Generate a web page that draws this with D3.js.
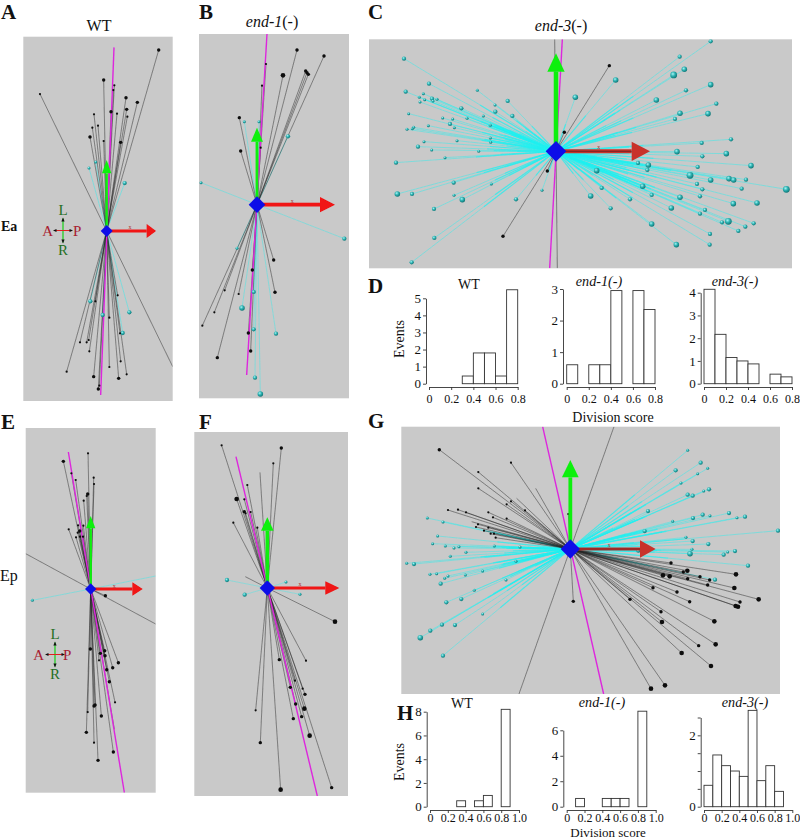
<!DOCTYPE html>
<html><head><meta charset="utf-8">
<script src="https://cdn.jsdelivr.net/npm/d3@7"></script>
<style>html,body{margin:0;padding:0;background:#fff}svg{display:block}text{font-family:"Liberation Serif",serif}</style>
</head><body><div id="c"></div>
<script>
// ---- values: [horizontal reading, vertical reading, depth class]
const blackA=[[476,150,2],[120,282,1],[311,240,2],[343,256,1],[340,270,1],[378,293,2],[412,307,2],[380,328,2],[333,335,2],[351,341,1],[282,343,1],[382,350,1],[294,377,1],[277,383,1],[270,411,2],[311,423,1],[362,427,2],[200,1115,1],[240,1027,1],[260,1027,1],[266,1020,1],[268,1054,1],[286,904,1],[328,953,1],[353,886,1],[362,1084,1],[328,1101,1],[380,1123,1],[356,1135,2],[281,1130,2],[295,1167,2],[298,1157,1],[360,1000,1]];
const cyanA=[[287,486,1],[267,504,1],[374,549,2],[271,904,2],[388,937,2],[368,999,2],[308,945,2]];
const blackAOpen=[[518,1100]];
const blackB=[[891,150,2],[972,168,2],[849,226,3],[917,213,2],[925,223,2],[921,218,2],[798,192,1],[786,257,1],[718,353,2],[722,453,2],[782,443,1],[821,780,2],[825,877,2],[757,810,2],[716,882,1],[674,871,1],[643,937,1],[607,977,1],[652,1073,2],[745,999,2],[752,1053,2]];
const cyanB=[[733,365,1],[777,365,1],[864,409,2],[603,548,1],[1033,716,2],[711,745,1],[761,876,2],[726,924,3],[761,988,2],[828,1001,2],[765,1133,2],[781,1182,3]];
const blackC=[[748,197,2],[613,397,2],[562,513,2],[429,709,2]];
const blackCOpen=[[584,118],[592,805]];
const cyanC=[[132,176,2],[207,251,2],[137,275,2],[352,271,1],[178,292,1],[190,281,1],[180,306,1],[194,299,1],[216,296,2],[219,303,1],[231,298,1],[304,325,2],[405,315,1],[443,303,2],[406,335,2],[146,341,1],[248,354,1],[278,357,1],[321,355,1],[370,348,1],[457,348,2],[141,388,1],[157,386,1],[161,382,1],[205,377,1],[270,372,2],[283,383,1],[391,376,1],[192,425,1],[291,422,1],[391,414,1],[392,427,1],[174,440,2],[215,450,1],[356,454,1],[255,473,1],[108,488,2],[112,582,3],[156,582,2],[281,548,2],[394,552,1],[282,586,1],[307,599,3],[222,627,2],[468,598,2],[546,571,1],[223,714,2],[155,787,2],[646,292,3],[767,240,3],[1052,124,2],[959,170,2],[941,225,4],[973,208,3],[1052,254,3],[978,271,2],[889,300,3],[1069,311,2],[960,340,3],[1044,341,3],[945,357,2],[1113,418,2],[1025,429,2],[951,455,3],[1099,461,3],[1027,469,2],[1173,497,3],[1013,501,2],[834,489,2],[865,495,3],[862,510,2],[710,512,3],[990,526,4],[1052,540,3],[1107,536,3],[1121,540,3],[1158,539,2],[1011,552,2],[1027,568,2],[1145,566,2],[1279,568,4],[848,559,3],[725,564,2],[875,585,2],[692,588,3],[810,598,2],[960,592,3],[1020,589,2],[1120,611,3],[1191,609,3],[752,625,2],[934,624,3],[1035,630,2],[1020,641,2],[1086,667,2],[1105,664,4],[1181,670,2],[1156,680,2],[1135,693,2],[875,672,3],[1050,702,2],[1049,734,2],[949,734,3]];
const blackE=[[264,130,1],[190,154,2],[214,190,1],[227,210,1],[281,203,1],[282,222,1],[263,252,2],[260,258,1],[251,272,1],[206,358,1],[234,346,1],[250,347,1],[239,363,2],[233,368,1],[228,382,1],[240,380,1],[249,380,1],[316,557,2],[271,717,2],[314,722,2],[301,730,2],[315,737,2],[297,751,1],[355,758,2],[338,773,2],[320,779,2],[328,815,2],[345,877,1],[285,885,2],[282,888,2],[263,906,1],[304,918,2],[259,967,2],[282,998,1],[340,1026,2],[294,1051,2]];
const blackEOpen=[[77,431],[467,642],[343,958]];
const cyanE=[[97,571,1]];
const cyanEOpen=[[467,498]];
const blackF=[[665,106,1],[844,114,2],[820,160,1],[742,225,1],[710,267,3],[733,268,1],[733,305,2],[737,310,1],[752,306,1],[700,338,1],[772,353,1],[918,752,1],[838,749,2],[885,812,1],[871,832,2],[908,836,1],[915,853,2],[887,882,2],[913,896,3],[905,920,2],[880,926,2],[767,901,1],[929,977,3],[781,998,2],[995,1133,2],[842,1139,3],[1005,635,3]];
const blackFOpen=[[780,187],[736,500]];
const cyanF=[[681,510,2],[858,516,1],[734,554,2],[900,553,1]];
const blackG=[[148,89,2],[265,156,1],[363,128,1],[265,205,1],[363,244,1],[350,253,1],[405,271,1],[174,270,1],[204,269,1],[228,277,1],[295,277,1],[309,292,1],[350,296,1],[264,313,1],[258,321,1],[295,323,1],[282,332,1],[302,341,1],[312,341,1],[317,353,1],[535,282,1],[843,429,2],[1038,463,3],[892,452,3],[880,456,2],[819,466,3],[839,469,3],[893,476,2],[930,470,2],[959,480,2],[953,495,2],[1033,504,3],[789,503,2],[861,516,2],[1106,538,3],[1050,546,2],[1037,558,3],[1044,560,3],[899,545,2],[720,538,2],[813,575,2],[816,606,3],[973,604,3],[977,673,3],[926,677,2],[875,699,3],[963,738,3],[825,796,3],[783,806,3],[550,544,2]];
const blackGOpen=[[672,20],[387,822],[437,205],[380,235],[245,305]];
const cyanG=[[893,91,1],[932,128,2],[953,145,1],[857,151,2],[923,161,1],[873,189,1],[893,224,2],[908,227,2],[941,213,1],[957,208,2],[774,273,2],[909,294,2],[938,284,2],[960,287,1],[1017,279,2],[1041,293,1],[1065,290,2],[848,304,1],[764,333,2],[1164,332,2],[888,352,1],[908,363,2],[955,372,2],[906,388,1],[900,401,3],[1001,404,2],[1013,396,1],[1035,393,2],[745,392,2],[1074,437,2],[975,479,2],[112,294,1],[159,306,1],[143,348,1],[128,371,1],[166,378,1],[192,384,1],[207,380,1],[313,378,1],[390,381,1],[228,397,1],[181,409,1],[50,430,1],[72,432,2],[378,424,1],[278,453,1],[120,463,1],[140,461,1],[174,468,1],[164,475,1],[226,465,1],[152,491,2],[348,480,1],[253,511,1],[214,537,2],[169,547,2],[278,582,1],[156,614,2],[195,615,2],[121,632,2],[91,653,3],[159,707,2]];

// histogram bin heights, bins of 0.1 from 0
const histDWT=[0,0,0,0.45,1.8,1.8,0.45,5.5];
const histDEnd1=[0.6,0,0.6,0.6,2.95,0,2.95,2.35];
const histDEnd3=[4.15,2.17,1.15,1,0.87,0,0.42,0.3];
const histHWT=[0,0,0,0.5,0,0.5,0.95,0,8.2];
const histHEnd1=[0,0.65,0,0,0.65,0.65,0.65,0,7.5];
const histHEnd3=[0.6,1.45,1.15,1,0.85,2.7,0.73,1.15,0.43];
const ticksD=[0,0.2,0.4,0.6,0.8];
const ticksH=[0,0.2,0.4,0.6,0.8,1.0];

// ---- layout
const svg=d3.select("#c").append("svg").attr("width",800).attr("height",840);
const defs=svg.append("defs");
const ball=defs.append("radialGradient").attr("id","ball").attr("cx","38%").attr("cy","35%").attr("r","70%");
[[0,"#a8f4f4"],[0.45,"#2fb3b3"],[1,"#0c6f6f"]].forEach(s=>ball.append("stop").attr("offset",s[0]).attr("stop-color",s[1]));
defs.append("filter").attr("id","soft").attr("x","-5%").attr("y","-5%").attr("width","110%").attr("height","110%").append("feGaussianBlur").attr("stdDeviation",0.4);
const rCyan=d3.scaleLinear().domain([1,4]).range([1.5,3.4]);
const rBlack=d3.scaleLinear().domain([1,4]).range([1.1,2.9]);

function sphere(o){
  const outer=svg.append("g");
  const clip="clip"+o.id;
  defs.append("clipPath").attr("id",clip).append("rect").attr("x",o.box[0]).attr("y",o.box[1]).attr("width",o.box[2]-o.box[0]).attr("height",o.box[3]-o.box[1]);
  outer.append("rect").attr("x",o.box[0]).attr("y",o.box[1]).attr("width",o.box[2]-o.box[0]).attr("height",o.box[3]-o.box[1]).attr("fill","#c9c9c9");
  const g=outer.append("g").attr("clip-path",`url(#${clip})`);
  const x=d3.scaleLinear().domain(o.dx).range([o.box[0],o.box[2]]);
  const y=d3.scaleLinear().domain(o.dy).range([o.box[1],o.box[3]]);
  const [cx,cy]=o.center;
  const p=g.append("g").attr("filter","url(#soft)");
  const lines=(data,color,w,op,part=1)=>p.append("g").selectAll("line").data(data).join("line")
    .attr("x1",x(cx)).attr("y1",y(cy)).attr("x2",d=>x(cx+(d[0]-cx)*part)).attr("y2",d=>y(cy+(d[1]-cy)*part))
    .attr("stroke",color).attr("stroke-width",w).attr("stroke-opacity",op);
  const cy2=(o.cyan||[]).concat(o.cyanOpen||[]);
  lines(cy2,"#1ff0f0",0.85,o.cop||0.6);
  if(o.taper)lines(cy2,"#1ff0f0",1.3,0.55,o.taper);
  lines((o.black||[]).concat(o.blackOpen||[]),"#222",0.75,0.62);
  p.append("line").attr("x1",x(o.mag[0])).attr("y1",y(o.mag[1])).attr("x2",x(o.mag[2])).attr("y2",y(o.mag[3])).attr("stroke","#dd28dd").attr("stroke-width",1.4);
  p.append("g").selectAll("circle").data(o.cyan||[]).join("circle").attr("cx",d=>x(d[0])).attr("cy",d=>y(d[1])).attr("r",d=>rCyan(d[2])).attr("fill","url(#ball)");
  p.append("g").selectAll("circle").data(o.black||[]).join("circle").attr("cx",d=>x(d[0])).attr("cy",d=>y(d[1])).attr("r",d=>rBlack(d[2])).attr("fill","#0c0c0c");
  // arrows
  const [gTip,gBase,gHalf,gW]=o.green, [rTip,rBase,rHalf,rW,rCol]=o.red;
  p.append("line").attr("x1",x(cx)).attr("x2",x(cx)).attr("y1",y(cy)).attr("y2",y(gBase)).attr("stroke","#10f010").attr("stroke-width",gW);
  p.append("polygon").attr("points",[[x(cx),y(gTip)],[x(cx-gHalf),y(gBase)],[x(cx+gHalf),y(gBase)]].join(" ")).attr("fill","#10f010");
  p.append("line").attr("x1",x(cx)).attr("x2",x(rBase)).attr("y1",y(cy)).attr("y2",y(cy)).attr("stroke",rCol).attr("stroke-width",rW);
  p.append("polygon").attr("points",[[x(rTip),y(cy)],[x(rBase),y(cy-rHalf)],[x(rBase),y(cy+rHalf)]].join(" ")).attr("fill",rCol);
  if(o.stripe){
    p.append("line").attr("x1",x(cx)).attr("x2",x(rBase)).attr("y1",y(cy)).attr("y2",y(cy)).attr("stroke","#552222").attr("stroke-width",0.7);
  }
  const dr=o.dia;
  p.append("polygon").attr("points",[[x(cx),y(cy-dr)],[x(cx+dr),y(cy)],[x(cx),y(cy+dr)],[x(cx-dr),y(cy)]].join(" ")).attr("fill","#0a10e8");
  g.append("text").attr("x",x(o.ax[0])).attr("y",y(o.ax[1])).attr("font-size",6).attr("text-anchor","middle").attr("fill","#b03030").text("x");
}
sphere({id:"A",box:[23.3,36.7,172.7,401],dx:[70,518],dy:[110,1203],center:[320,693],black:blackA,cyan:cyanA,blackOpen:blackAOpen,mag:[342,142,302,1185],green:[480,520,14,2.4],red:[468,440,21,2.8,"#f01212"],dia:18,cop:0.5,ax:[390,688]});
sphere({id:"B",box:[199,34,349,398.3],dx:[597,1047],dy:[102,1195],center:[771,614],black:blackB,cyan:cyanB,mag:[801,102,740,1125],green:[383,425,18,2.8],red:[1005,960,23,3.6,"#f01212"],dia:25,cop:0.45,ax:[877,610]});
sphere({id:"C",box:[369,39.3,792,268.3],dx:[27,1296],dy:[118,805],center:[588,454],black:blackC,blackOpen:blackCOpen,cyan:cyanC,mag:[607,118,569,805],green:[160,215,26,4.5],red:[870,815,29,4,"#c8302a"],stripe:true,dia:31,cop:0.5,taper:0.5,ax:[716,447]});
sphere({id:"E",box:[25.7,428,155.7,792.7],dx:[77,467],dy:[54,1148],center:[272,537],black:blackE,blackOpen:blackEOpen,cyan:cyanE,cyanOpen:cyanEOpen,mag:[205,126,373,1148],green:[318,355,14,2.4],red:[428,397,20,2.8,"#f01212"],dia:17,cop:0.45,ax:[343,533]});
sphere({id:"F",box:[194.3,432,348,796],dx:[583,1044],dy:[66,1158],center:[802,534],black:blackF,blackOpen:blackFOpen,cyan:cyanF,mag:[708,140,952,1158],green:[322,362,19,3.6],red:[1018,976,20,3,"#f01212"],dia:23,cop:0.4,ax:[900,529]});
sphere({id:"G",box:[401.3,426.7,780,694],dx:[34,1170],dy:[20,822],center:[541,387],black:blackG,blackOpen:blackGOpen,cyan:cyanG,mag:[458,20,641,822],green:[120,172,25,3.8],red:[797,750,26,3,"#c8302a"],stripe:true,dia:29,cop:0.5,taper:0.55,ax:[658,381]});

function text(t,x,y,size,opts={}){
  const e=svg.append("text").attr("x",x).attr("y",y).attr("font-size",size).attr("fill",opts.fill||"#111")
    .attr("text-anchor",opts.anchor||"start").attr("font-weight",opts.bold?"bold":null).attr("font-style",opts.italic?"italic":null);
  if(opts.rot!==undefined)e.attr("transform",`rotate(${opts.rot} ${x} ${y})`);
  e.text(t);return e;
}
[["A",1,18.8],["B",199,18.8],["C",368,18.8],["D",368,293],["E",1,429],["F",199,429],["G",368,428],["H",397,720]].forEach(d=>text(d[0],d[1],d[2],21,{bold:true}));
text("Ea",1,231,14,{bold:true});
text("Ep",0,581,16);
text("WT",99,31,16,{anchor:"middle"});
const t1=text("",272,27,16,{anchor:"middle"});t1.append("tspan").attr("font-style","italic").text("end-1");t1.append("tspan").text("(-)");
const t3=text("",561,31,16,{anchor:"middle"});t3.append("tspan").attr("font-style","italic").text("end-3");t3.append("tspan").text("(-)");

function mini(cx,cy,o){
  const g=svg.append("g");
  g.append("line").attr("x1",cx).attr("x2",cx).attr("y1",cy-12).attr("y2",cy+12).attr("stroke","#16d016").attr("stroke-width",1.2);
  g.append("line").attr("x1",cx-9).attr("x2",cx+9).attr("y1",cy).attr("y2",cy).attr("stroke","#e02020").attr("stroke-width",1);
  [[0,-13,-1.6,-9,1.6,-9],[0,13,-1.6,9,1.6,9],[-10,0,-6.5,-1.6,-6.5,1.6],[10,0,6.5,-1.6,6.5,1.6]].forEach(a=>
    g.append("polygon").attr("points",`${cx+a[0]},${cy+a[1]} ${cx+a[2]},${cy+a[3]} ${cx+a[4]},${cy+a[5]}`).attr("fill","#111"));
  text("L",cx,cy-o[0],15,{anchor:"middle",fill:"#1f6f1f"});
  text("R",cx,cy+o[1],15,{anchor:"middle",fill:"#1f6f1f"});
  text("A",cx-o[2],cy+5,15,{anchor:"end",fill:"#a82030"});
  text("P",cx+o[3],cy+5,15,{anchor:"start",fill:"#a82030"});
}
mini(63,230.5,[15.5,24.5,10,10]);
mini(55,654.5,[15.5,24.5,11,8]);

function hist(o){
  const g=svg.append("g");
  const x=d3.scaleLinear().domain(o.xd).range(o.xr);
  const y=d3.scaleLinear().domain(o.yd).range(o.yr);
  g.append("g").selectAll("rect").data(o.vals.map((v,i)=>({v,i})).filter(d=>d.v>0)).join("rect")
    .attr("x",d=>x(d.i*0.1)).attr("width",d=>x((d.i+1)*0.1)-x(d.i*0.1))
    .attr("y",d=>y(d.v)).attr("height",d=>y(0)-y(d.v))
    .attr("fill","#fff").attr("stroke","#333").attr("stroke-width",0.9);
  const ya=d3.axisLeft(y).tickValues(o.yt).tickSize(3).tickSizeOuter(0).tickFormat(d=>o.yl.includes(d)?d:"");
  const yg=g.append("g").attr("transform",`translate(${o.ax},0)`).call(ya);
  const xa=d3.axisBottom(x).tickValues(o.xt).tickSize(3).tickSizeOuter(0).tickFormat(d=>d===0?"0":d3.format(".1f")(d));
  const xg=g.append("g").attr("transform",`translate(0,${o.ay})`).call(xa);
  [yg,xg].forEach(a=>{a.selectAll("path,line").attr("stroke","#333").attr("stroke-width",0.9);a.selectAll("text").attr("fill","#111").attr("font-size",12).attr("font-family","Liberation Serif");});
  xg.selectAll("text").attr("dy",o.xdy||"0.8em");
  yg.selectAll("text").attr("x",-5).attr("font-size",13);
}
hist({vals:histDWT,xd:[0,0.8],xr:[429,517.7],yd:[0,5],yr:[383.7,298.3],ax:426,ay:387,xt:ticksD,yt:[0,1,2,3,4,5],yl:[0,1,2,3,4,5]});
hist({vals:histDEnd1,xd:[0,0.8],xr:[566.7,655],yd:[0,3],yr:[383.7,289],ax:563,ay:387,xt:ticksD,yt:[0,1,2,3],yl:[0,1,2,3]});
hist({vals:histDEnd3,xd:[0,0.8],xr:[704,792],yd:[0,4],yr:[383.7,292.7],ax:700.7,ay:387,xt:ticksD,yt:[0,1,2,3,4],yl:[0,1,2,3,4]});
hist({vals:histHWT,xd:[0,1],xr:[430,519],yd:[0,8],yr:[806.7,711.7],ax:426.7,ay:810,xt:ticksH,yt:[0,2,4,6,8],yl:[0,2,4,6,8],xdy:"0.5em"});
hist({vals:histHEnd1,xd:[0,1],xr:[566.7,655.7],yd:[0,6],yr:[806.7,730.3],ax:563.3,ay:810,xt:ticksH,yt:[0,2,4,6],yl:[0,2,4,6],xdy:"0.5em"});
hist({vals:histHEnd3,xd:[0,1],xr:[704,792.3],yd:[0,2.5],yr:[806.7,717.5],ax:700.7,ay:810,xt:ticksH,yt:[0,0.5,1,1.5,2,2.5],yl:[0,2],xdy:"0.5em"});

text("WT",469,289,14,{anchor:"middle"});
text("end-1(-)",599,286,14.2,{anchor:"middle",italic:true});
text("end-3(-)",735,286,14.2,{anchor:"middle",italic:true});
text("Division score",613,422,14,{anchor:"middle"});
text("Events",404,339,14,{anchor:"middle",rot:-90});
text("WT",462,708,14,{anchor:"middle"});
text("end-1(-)",602,707,14.2,{anchor:"middle",italic:true});
text("end-3(-)",745,707,14.2,{anchor:"middle",italic:true});
text("Division score",608,837,13,{anchor:"middle"});
text("Events",404,762,14,{anchor:"middle",rot:-90});
</script></body></html>
